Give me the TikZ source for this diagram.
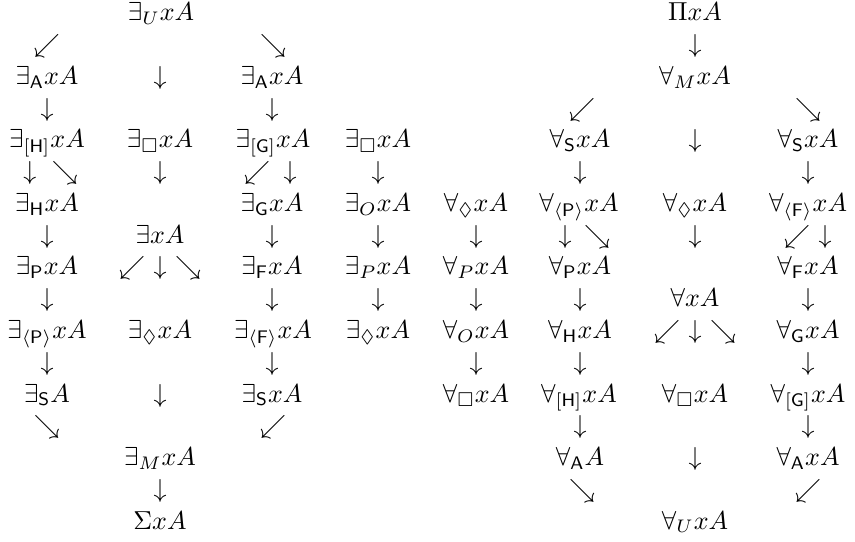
\documentclass[tikz,border=0pt]{standalone}
\usepackage{amssymb}
% Row r has its baseline at 21 + 31.75 r (pixel-like units, y downwards)
\tikzset{
  term/.style={anchor=base, inner sep=0pt, outer sep=0pt},
  arr/.style={anchor=base, inner sep=0pt, outer sep=0pt}
}
\newcommand{\rw}[1]{{21+31.75*#1}}
\begin{document}
\begin{tikzpicture}[x=0.3846pt, y=-0.3846pt]
\useasboundingbox (0,0) rectangle (855,542);

% ---------- existential side ----------
\node[term] (eU)  at (161,\rw{0}) {$\exists_U xA$};
\node[arr]  (a1l) at (47,\rw{1}) {$\swarrow$};
\node[arr]  (a1r) at (273,\rw{1}) {$\searrow$};
% column 1
\node[term] (eA1) at (47,\rw{2}) {$\exists_{\mathsf{A}} xA$};
\node[arr]  (c1d3) at (47,\rw{3}) {$\downarrow$};
\node[term] (eH1) at (47,\rw{4}) {$\exists_{[\mathsf{H}]} xA$};
\node[arr]  (c1d5a) at (30,\rw{5}) {$\downarrow$};
\node[arr]  (c1d5b) at (65,\rw{5}) {$\searrow$};
\node[term] (eH)  at (47,\rw{6}) {$\exists_{\mathsf{H}} xA$};
\node[arr]  (c1d7) at (47,\rw{7}) {$\downarrow$};
\node[term] (eP)  at (47,\rw{8}) {$\exists_{\mathsf{P}} xA$};
\node[arr]  (c1d9) at (47,\rw{9}) {$\downarrow$};
\node[term] (ePd) at (47,\rw{10}) {$\exists_{\langle\mathsf{P}\rangle} xA$};
\node[arr]  (c1d11) at (47,\rw{11}) {$\downarrow$};
\node[term] (eS1) at (47,\rw{12}) {$\exists_{\mathsf{S}} A$};
\node[arr]  (c1d13) at (47,\rw{13}) {$\searrow$};
% column 2
\node[arr]  (c2d2) at (160,\rw{2}) {$\downarrow$};
\node[term] (eBox1) at (160,\rw{4}) {$\exists_{\Box} xA$};
\node[arr]  (c2d5) at (160,\rw{5}) {$\downarrow$};
\node[term] (e)   at (160,\rw{7}) {$\exists xA$};
\node[arr]  (c2d8a) at (132,\rw{8}) {$\swarrow$};
\node[arr]  (c2d8b) at (160,\rw{8}) {$\downarrow$};
\node[arr]  (c2d8c) at (188,\rw{8}) {$\searrow$};
\node[term] (eDia1) at (160,\rw{10}) {$\exists_{\Diamond} xA$};
\node[arr]  (c2d12) at (160,\rw{12}) {$\downarrow$};
\node[term] (eM)  at (160,\rw{14}) {$\exists_M xA$};
\node[arr]  (c2d15) at (160,\rw{15}) {$\downarrow$};
\node[term] (Sig) at (160,\rw{16}) {$\Sigma xA$};
% column 3
\node[term] (eA3) at (272,\rw{2}) {$\exists_{\mathsf{A}} xA$};
\node[arr]  (c3d3) at (272,\rw{3}) {$\downarrow$};
\node[term] (eG3) at (273,\rw{4}) {$\exists_{[\mathsf{G}]} xA$};
\node[arr]  (c3d5a) at (257,\rw{5}) {$\swarrow$};
\node[arr]  (c3d5b) at (290,\rw{5}) {$\downarrow$};
\node[term] (eG)  at (272,\rw{6}) {$\exists_{\mathsf{G}} xA$};
\node[arr]  (c3d7) at (272,\rw{7}) {$\downarrow$};
\node[term] (eF)  at (272,\rw{8}) {$\exists_{\mathsf{F}} xA$};
\node[arr]  (c3d9) at (272,\rw{9}) {$\downarrow$};
\node[term] (eFd) at (273,\rw{10}) {$\exists_{\langle\mathsf{F}\rangle} xA$};
\node[arr]  (c3d11) at (272,\rw{11}) {$\downarrow$};
\node[term] (eS3) at (272,\rw{12}) {$\exists_{\mathsf{S}} xA$};
\node[arr]  (c3d13) at (273,\rw{13}) {$\swarrow$};
% column 4
\node[term] (eBox4) at (378,\rw{4}) {$\exists_{\Box} xA$};
\node[arr]  (c4d5) at (378,\rw{5}) {$\downarrow$};
\node[term] (eO)  at (378,\rw{6}) {$\exists_O xA$};
\node[arr]  (c4d7) at (378,\rw{7}) {$\downarrow$};
\node[term] (ePi) at (378,\rw{8}) {$\exists_P xA$};
\node[arr]  (c4d9) at (378,\rw{9}) {$\downarrow$};
\node[term] (eDia4) at (378,\rw{10}) {$\exists_{\Diamond} xA$};

% ---------- universal side ----------
% column 5
\node[term] (aDia5) at (476,\rw{6}) {$\forall_{\Diamond} xA$};
\node[arr]  (c5d7) at (476,\rw{7}) {$\downarrow$};
\node[term] (aPi) at (476,\rw{8}) {$\forall_P xA$};
\node[arr]  (c5d9) at (476,\rw{9}) {$\downarrow$};
\node[term] (aO)  at (476,\rw{10}) {$\forall_O xA$};
\node[arr]  (c5d11) at (476,\rw{11}) {$\downarrow$};
\node[term] (aBox5) at (476,\rw{12}) {$\forall_{\Box} xA$};
% column 6
\node[arr]  (c6d3) at (582,\rw{3}) {$\swarrow$};
\node[term] (aS6) at (580,\rw{4}) {$\forall_{\mathsf{S}} xA$};
\node[arr]  (c6d5) at (580,\rw{5}) {$\downarrow$};
\node[term] (aPd) at (579,\rw{6}) {$\forall_{\langle\mathsf{P}\rangle} xA$};
\node[arr]  (c6d7a) at (565,\rw{7}) {$\downarrow$};
\node[arr]  (c6d7b) at (597,\rw{7}) {$\searrow$};
\node[term] (aP)  at (580,\rw{8}) {$\forall_{\mathsf{P}} xA$};
\node[arr]  (c6d9) at (580,\rw{9}) {$\downarrow$};
\node[term] (aH)  at (580,\rw{10}) {$\forall_{\mathsf{H}} xA$};
\node[arr]  (c6d11) at (580,\rw{11}) {$\downarrow$};
\node[term] (aH6) at (579,\rw{12}) {$\forall_{[\mathsf{H}]} xA$};
\node[arr]  (c6d13) at (580,\rw{13}) {$\downarrow$};
\node[term] (aA6) at (580,\rw{14}) {$\forall_{\mathsf{A}} A$};
\node[arr]  (c6d15) at (582,\rw{15}) {$\searrow$};
% column 7
\node[term] (Pi)  at (695,\rw{0}) {$\Pi xA$};
\node[arr]  (c7d1) at (695,\rw{1}) {$\downarrow$};
\node[term] (aM)  at (695,\rw{2}) {$\forall_M xA$};
\node[arr]  (c7d4) at (695,\rw{4}) {$\downarrow$};
\node[term] (aDia7) at (695,\rw{6}) {$\forall_{\Diamond} xA$};
\node[arr]  (c7d7) at (695,\rw{7}) {$\downarrow$};
\node[term] (a)   at (695,\rw{9}) {$\forall xA$};
\node[arr]  (c7d10a) at (667,\rw{10}) {$\swarrow$};
\node[arr]  (c7d10b) at (695,\rw{10}) {$\downarrow$};
\node[arr]  (c7d10c) at (723,\rw{10}) {$\searrow$};
\node[term] (aBox7) at (695,\rw{12}) {$\forall_{\Box} xA$};
\node[arr]  (c7d14) at (695,\rw{14}) {$\downarrow$};
\node[term] (aU)  at (695,\rw{16}) {$\forall_U xA$};
% column 8
\node[arr]  (c8d3) at (808,\rw{3}) {$\searrow$};
\node[term] (aS8) at (808,\rw{4}) {$\forall_{\mathsf{S}} xA$};
\node[arr]  (c8d5) at (808,\rw{5}) {$\downarrow$};
\node[term] (aFd) at (808,\rw{6}) {$\forall_{\langle\mathsf{F}\rangle} xA$};
\node[arr]  (c8d7a) at (797,\rw{7}) {$\swarrow$};
\node[arr]  (c8d7b) at (825,\rw{7}) {$\downarrow$};
\node[term] (aF)  at (808,\rw{8}) {$\forall_{\mathsf{F}} xA$};
\node[arr]  (c8d9) at (808,\rw{9}) {$\downarrow$};
\node[term] (aG)  at (808,\rw{10}) {$\forall_{\mathsf{G}} xA$};
\node[arr]  (c8d11) at (808,\rw{11}) {$\downarrow$};
\node[term] (aG8) at (808,\rw{12}) {$\forall_{[\mathsf{G}]} xA$};
\node[arr]  (c8d13) at (808,\rw{13}) {$\downarrow$};
\node[term] (aA8) at (808,\rw{14}) {$\forall_{\mathsf{A}} xA$};
\node[arr]  (c8d15) at (808,\rw{15}) {$\swarrow$};
\end{tikzpicture}
\end{document}
